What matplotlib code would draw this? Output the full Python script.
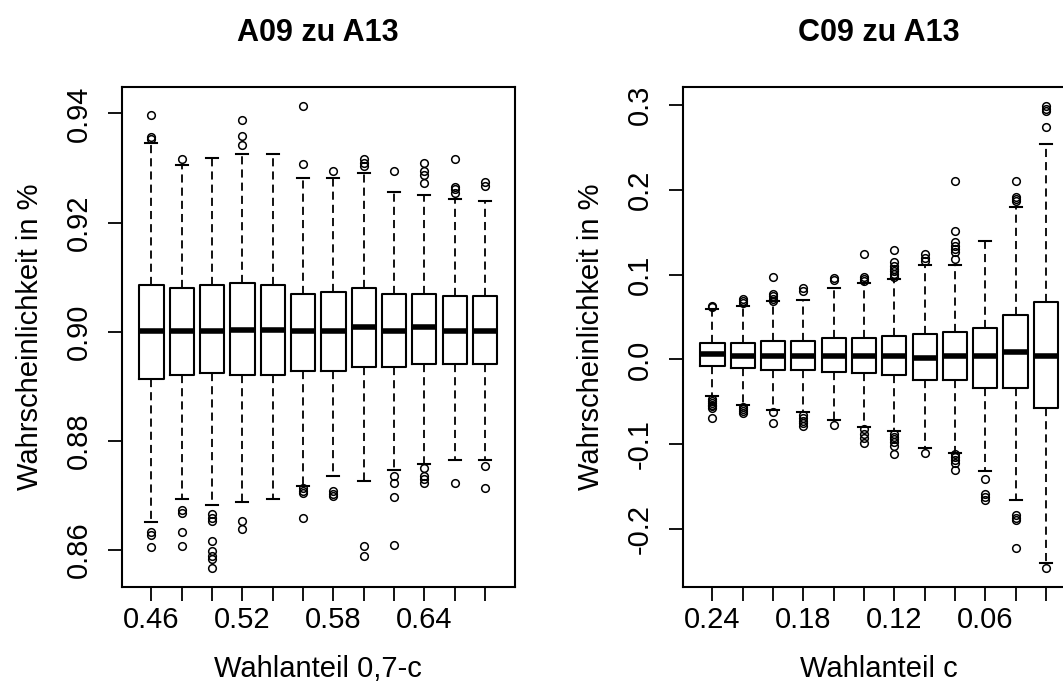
import numpy as np
import matplotlib.pyplot as plt

plt.rcParams['font.family'] = ['Liberation Sans', 'DejaVu Sans']

# Wahlanteil c von 0.24 bis 0.02, links als 0,7-c
c_werte = [0.24, 0.22, 0.20, 0.18, 0.16, 0.14, 0.12, 0.10, 0.08, 0.06, 0.04, 0.02]
a_werte = [0.46, 0.48, 0.50, 0.52, 0.54, 0.56, 0.58, 0.60, 0.62, 0.64, 0.66, 0.68]

# A09 zu A13: Boxplot-Kennzahlen je Wahlanteil
a_med = [0.9001, 0.9001, 0.9001, 0.9003, 0.9003, 0.9001, 0.9001, 0.9008, 0.9001, 0.9008, 0.9001, 0.9001]
a_q1 = [0.8913, 0.8921, 0.8924, 0.8921, 0.8921, 0.8928, 0.8928, 0.8935, 0.8935, 0.8941, 0.8941, 0.8941]
a_q3 = [0.9086, 0.9079, 0.9086, 0.9089, 0.9086, 0.9069, 0.9072, 0.9080, 0.9069, 0.9069, 0.9065, 0.9065]
a_wlo = [0.8651, 0.8692, 0.8682, 0.8688, 0.8692, 0.8716, 0.8736, 0.8726, 0.8747, 0.8757, 0.8764, 0.8764]
a_whi = [0.9346, 0.9305, 0.9318, 0.9326, 0.9326, 0.9282, 0.9282, 0.9291, 0.9256, 0.9250, 0.9244, 0.9240]
a_aus = [
    [0.9397, 0.9357, 0.9354, 0.8633, 0.8626, 0.8605],
    [0.9317, 0.8672, 0.8667, 0.8633, 0.8607],
    [0.8665, 0.8658, 0.8652, 0.8615, 0.8597, 0.8589, 0.8582, 0.8566],
    [0.9388, 0.9359, 0.9343, 0.8652, 0.8638],
    [],
    [0.9414, 0.9308, 0.8713, 0.8708, 0.8703, 0.8658],
    [0.9295, 0.8707, 0.8702, 0.8698],
    [0.9317, 0.9310, 0.9304, 0.8607, 0.8589],
    [0.9295, 0.8736, 0.8722, 0.8697, 0.8609],
    [0.9310, 0.9295, 0.9287, 0.9272, 0.8750, 0.8736, 0.8730, 0.8723],
    [0.9316, 0.9266, 0.9261, 0.9254, 0.8723],
    [0.9274, 0.9267, 0.8754, 0.8713],
]

# C09 zu A13
c_med = [0.0063, 0.0042, 0.0042, 0.0042, 0.0042, 0.0042, 0.0042, 0.0021, 0.0042, 0.0042, 0.0084, 0.0042]
c_q1 = [-0.0080, -0.0101, -0.0122, -0.0122, -0.0143, -0.0164, -0.0185, -0.0248, -0.0248, -0.0336, -0.0336, -0.0575]
c_q3 = [0.0189, 0.0189, 0.0214, 0.0214, 0.0256, 0.0256, 0.0277, 0.0298, 0.0319, 0.0369, 0.0524, 0.0675]
c_wlo = [-0.0428, -0.0541, -0.0596, -0.0625, -0.0713, -0.0797, -0.0847, -0.1045, -0.1099, -0.1321, -0.1653, -0.2400]
c_whi = [0.0600, 0.0629, 0.0684, 0.0696, 0.0839, 0.0902, 0.0944, 0.1112, 0.1112, 0.1397, 0.1795, 0.2538]
c_aus = [
    [0.0629, 0.0617, -0.0470, -0.0491, -0.0512, -0.0533, -0.0554, -0.0575, -0.0688],
    [0.0713, 0.0692, 0.0671, -0.0566, -0.0587, -0.0608, -0.0629],
    [0.0977, 0.0776, 0.0747, 0.0717, 0.0692, -0.0625, -0.0751],
    [0.0843, 0.0810, -0.0659, -0.0692, -0.0722, -0.0755, -0.0784],
    [0.0965, 0.0935, -0.0776],
    [0.1242, 0.0977, 0.0944, 0.0923, -0.0826, -0.0877, -0.0931, -0.0982],
    [0.1292, 0.1145, 0.1103, 0.1070, 0.1040, 0.1011, 0.0977, -0.0881, -0.0910, -0.0944, -0.0973, -0.1015, -0.1120],
    [0.1238, 0.1196, 0.1166, -0.1099],
    [0.2102, 0.1510, 0.1384, 0.1334, 0.1305, 0.1271, 0.1187, -0.1120, -0.1154, -0.1183, -0.1225, -0.1300],
    [-0.1405, -0.1582, -0.1623, -0.1657],
    [0.2102, 0.1921, 0.1892, 0.1867, -0.1833, -0.1867, -0.1896, -0.2219],
    [0.2991, 0.2957, 0.2928, 0.2739, -0.2462],
]


def kennzahlen(med, q1, q3, wlo, whi, aus):
    stats = []
    for i in range(len(med)):
        stats.append({'med': med[i], 'q1': q1[i], 'q3': q3[i],
                      'whislo': wlo[i], 'whishi': whi[i], 'fliers': aus[i]})
    return stats


def boxen(ax, stats, labels, yticks, titel, xlab):
    n = len(stats)
    pos = np.arange(1, n + 1)
    ax.bxp(stats, positions=pos, widths=0.8, manage_ticks=False,
           boxprops=dict(color='black', linewidth=1.5),
           medianprops=dict(color='black', linewidth=4, solid_capstyle='butt'),
           whiskerprops=dict(color='black', linewidth=1.3, linestyle=(0, (4.5, 2.8))),
           capprops=dict(color='black', linewidth=1.5),
           flierprops=dict(marker='o', markersize=5.5, markerfacecolor='none',
                           markeredgecolor='black', markeredgewidth=1.1))

    # Achsenbereich wie in R: 4 % Zugabe
    alle = [s['whislo'] for s in stats] + [s['whishi'] for s in stats]
    for s in stats:
        alle += list(s['fliers'])
    lo, hi = min(alle), max(alle)
    d = hi - lo
    ax.set_ylim(lo - 0.04 * d, hi + 0.04 * d)
    ax.set_xlim(0.5 - 0.04 * n, n + 0.5 + 0.04 * n)

    # nur jede dritte Beschriftung, der Rest überlappt
    ax.set_xticks(pos)
    ax.set_xticklabels([('%.2f' % v) if i % 3 == 0 else '' for i, v in enumerate(labels)])
    ax.set_yticks(yticks)
    ax.set_yticklabels(['%.1f' % v if abs(yticks[1] - yticks[0]) > 0.05 else '%.2f' % v for v in yticks])

    ax.tick_params(axis='both', direction='out', length=10, width=1.3, labelsize=21)
    ax.tick_params(axis='x', pad=4)
    ax.tick_params(axis='y', pad=10.5, labelrotation=90)
    for t in ax.get_yticklabels():
        t.set_va('center')
    for sp in ax.spines.values():
        sp.set_linewidth(1.5)

    ax.set_title(titel, fontsize=22, fontweight='bold', pad=33)
    ax.set_xlabel(xlab, fontsize=21, labelpad=15)
    ax.set_ylabel('Wahrscheinlichkeit in %', fontsize=21, labelpad=15)


fig = plt.figure(figsize=(10.63, 6.93), dpi=100)
ax1 = fig.add_axes([0.1145, 0.1534, 0.3697, 0.7206])
ax2 = fig.add_axes([0.6422, 0.1534, 0.3697, 0.7206])

boxen(ax1, kennzahlen(a_med, a_q1, a_q3, a_wlo, a_whi, a_aus), a_werte,
      [0.86, 0.88, 0.90, 0.92, 0.94], 'A09 zu A13', 'Wahlanteil 0,7-c')
boxen(ax2, kennzahlen(c_med, c_q1, c_q3, c_wlo, c_whi, c_aus), c_werte,
      [-0.2, -0.1, 0.0, 0.1, 0.2, 0.3], 'C09 zu A13', 'Wahlanteil c')

fig.savefig('out.png', dpi=100)
